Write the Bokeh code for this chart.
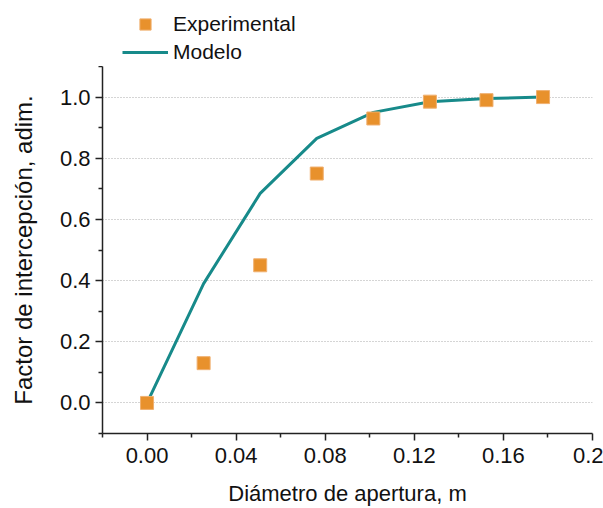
from bokeh.plotting import figure
from bokeh.layouts import column
from bokeh.models import FixedTicker, CustomJSTickFormatter, Legend, LegendItem, Range1d
from bokeh.embed import file_html
from bokeh.resources import INLINE

# Data
diam_exp = [0.0, 0.0254, 0.0508, 0.0762, 0.1016, 0.127, 0.1524, 0.1778]
factor_exp = [0.0, 0.13, 0.45, 0.75, 0.93, 0.985, 0.99, 1.0]
diam_mod = [0.0, 0.0254, 0.0508, 0.0762, 0.1016, 0.127, 0.1524, 0.1778]
factor_mod = [0.0, 0.39, 0.685, 0.865, 0.95, 0.985, 0.995, 1.0]

x_major = [0.0, 0.04, 0.08, 0.12, 0.16, 0.2]
x_minor = [-0.02, 0.02, 0.06, 0.10, 0.14, 0.18]
y_major = [0.0, 0.2, 0.4, 0.6, 0.8, 1.0]
y_minor = [-0.1, 0.1, 0.3, 0.5, 0.7, 0.9, 1.1]

FONT = "Liberation Sans"
ORANGE = "#E8912C"
TEAL = "#178A8A"
TXT = "#111111"

# ---- legend strip (top); its ranges keep the series out of view, only the legend shows ----
leg = figure(width=603, height=66, output_backend="svg", toolbar_location=None,
             x_axis_type=None, y_axis_type=None,
             x_range=Range1d(10, 11), y_range=Range1d(10, 11),
             min_border_left=102, min_border_right=11, min_border_top=0, min_border_bottom=0)
leg.outline_line_color = None
leg.xgrid.visible = False
leg.ygrid.visible = False
leg_line = leg.line(diam_mod, factor_mod, line_color=TEAL, line_width=3)
leg_sq = leg.scatter(diam_exp, factor_exp, marker="square", size=13,
                     fill_color=ORANGE, line_color="#F0B070", line_width=1)
legend = Legend(items=[LegendItem(label="Experimental", renderers=[leg_sq]),
                       LegendItem(label="Modelo", renderers=[leg_line])],
                location=(20, 0), orientation="vertical",
                padding=0, margin=0, spacing=0,
                glyph_width=46, glyph_height=28, label_standoff=5,
                border_line_color=None, background_fill_alpha=0,
                label_text_font=FONT, label_text_font_size="21px",
                label_text_color=TXT, label_text_baseline="middle")
leg.add_layout(legend, "center")

# ---- main plot ----
p = figure(width=603, height=442, output_backend="svg", toolbar_location=None,
           x_range=Range1d(-0.02, 0.2), y_range=Range1d(-0.1, 1.1),
           min_border_left=102, min_border_right=11, min_border_top=0, min_border_bottom=74)
p.outline_line_color = None
p.background_fill_color = "white"
p.border_fill_color = "white"

p.line(diam_mod, factor_mod, line_color=TEAL, line_width=3)
p.scatter(diam_exp, factor_exp, marker="square", size=13,
          fill_color=ORANGE, line_color="#F0B070", line_width=1)

p.xgrid.grid_line_color = None
p.ygrid.grid_line_color = "#aaaaaa"
p.ygrid.grid_line_dash = "1 2"
p.ygrid.grid_line_width = 1
p.ygrid.ticker = FixedTicker(ticks=y_major)

p.xaxis.ticker = FixedTicker(ticks=x_major, minor_ticks=x_minor)
p.yaxis.ticker = FixedTicker(ticks=y_major, minor_ticks=y_minor)
p.xaxis.formatter = CustomJSTickFormatter(code="return Math.abs(tick-0.2)<1e-9 ? '0.2' : tick.toFixed(2);")
p.yaxis.formatter = CustomJSTickFormatter(code="return tick.toFixed(1);")

for ax in (p.xaxis, p.yaxis):
    ax.axis_line_color = "#222222"
    ax.axis_line_width = 1.5
    ax.major_tick_line_color = "#222222"
    ax.minor_tick_line_color = "#222222"
    ax.major_tick_line_width = 1.5
    ax.minor_tick_line_width = 1.5
    ax.major_tick_in = 0
    ax.major_tick_out = 7
    ax.minor_tick_in = 0
    ax.minor_tick_out = 4
    ax.major_label_text_font = FONT
    ax.major_label_text_font_size = "22px"
    ax.major_label_text_color = TXT
    ax.axis_label_text_font = FONT
    ax.axis_label_text_font_style = "normal"
    ax.axis_label_text_color = TXT

p.xaxis.axis_label = "Diámetro de apertura, m"
p.yaxis.axis_label = "Factor de intercepción, adim."
p.xaxis.axis_label_text_font_size = "22px"
p.yaxis.axis_label_text_font_size = "24px"
p.xaxis.major_label_standoff = 7
p.xaxis.axis_label_standoff = 15
p.yaxis.major_label_standoff = 5
p.yaxis.axis_label_standoff = 20

layout = column(leg, p, spacing=0)
open("out.html", "w").write(file_html(layout, INLINE))
